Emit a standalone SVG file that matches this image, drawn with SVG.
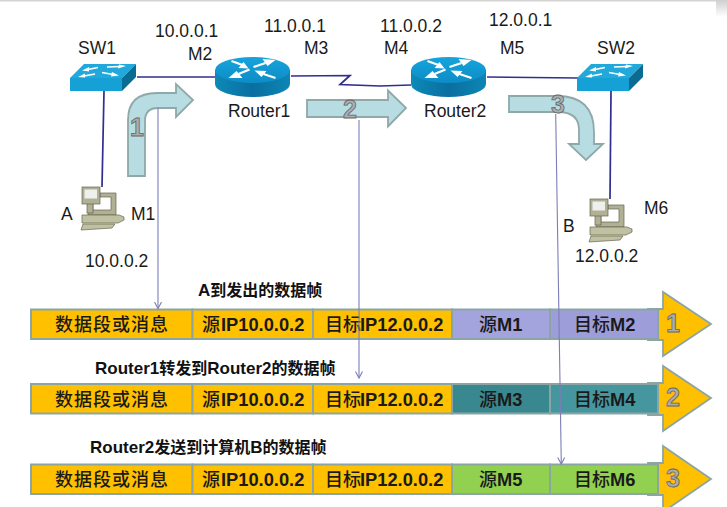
<svg xmlns="http://www.w3.org/2000/svg" xmlns:xlink="http://www.w3.org/1999/xlink" width="727" height="507" viewBox="0 0 727 507">
<style>
text{font-family:"Liberation Sans","Noto Sans CJK SC",sans-serif;fill:#1a1a1a}
.l{font-size:17.500px}
.t{font-size:16px;font-weight:700;fill:#111}
.t tspan{font-size:17px}
.c{font-size:18px;font-weight:500;fill:#1a1a1a}
.c tspan{font-weight:700;font-size:18.300px}
.n{font-size:25px;font-weight:700;fill:#adadad;stroke:#666;stroke-width:.8}
.w{fill:none;stroke:#2f2f90;stroke-width:1.700}
.p{fill:none;stroke:#7d7db8;stroke-width:1.100}
.h{fill:none;stroke:#7d7db8;stroke-width:1.100}
.ba{fill:#b7dde3;stroke:#8fa8a8;stroke-width:1.800}
.cell{stroke:#8ba5a5;stroke-width:2}
.am{fill:#ffc000}
.head{fill:#ffc000;stroke:#8ba5a5;stroke-width:1.800}
.wa{fill:none;stroke:#fff;stroke-width:2.200}
.wf{fill:#fff}
.pa{fill:#b0b094;stroke:#66664f;stroke-width:.7}
</style>
<defs>
<marker id="open" markerWidth="10" markerHeight="10" refX="7" refY="4" orient="auto" markerUnits="userSpaceOnUse"><path d="M0.5,0.5 L7,4 L0.5,7.5" class="h"/></marker>
<linearGradient id="rt" x1="0" y1="0" x2="0" y2="1"><stop offset="0" stop-color="#16a4dc"/><stop offset="1" stop-color="#0d8cc6"/></linearGradient>
<linearGradient id="rs" x1="0" y1="0" x2="1" y2="0"><stop offset="0" stop-color="#0c8ab8"/><stop offset=".5" stop-color="#0a6fa0"/><stop offset="1" stop-color="#0c86b4"/></linearGradient>
<linearGradient id="corner" x1="0" y1="0" x2="0" y2="1"><stop offset="0" stop-color="#cfcfcf"/><stop offset="1" stop-color="#ffffff"/></linearGradient>
<g id="router">
<path d="M-37.500,0 V14 A37.500,13 0 0 0 37.500,14 V0 Z" fill="url(#rs)"/>
<ellipse cx="0" cy="0" rx="37.500" ry="13" fill="url(#rt)"/>
<path class="wa" d="M-21,-9 L-10,-5 M1,-3 L13,-7 M-3,-0.500 L-14,4 M23,8 L11,4"/>
<path class="wf" d="M-4,-1.500 L-14,-2 L-9,-8 Z M23,-10 L10,-11 L15,-4 Z M-24,8 L-16,1 L-10,8 Z M2,0.500 L9,7 L14,1 Z"/>
</g>
<g id="switch">
<path d="M0,14 L14,0 H66 L52,14 Z" fill="#22a9db"/>
<path d="M0,14 H52 V27 H0 Z" fill="#15a0d6"/>
<path d="M52,14 L66,0 V13 L52,27 Z" fill="#0a6b93"/>
<path class="wa" style="stroke-width:1.500" d="M18,5.500 L28,3.500 M37,3 L50,2.500 M14,12 L25,10 M32,8.500 L43,10.500"/>
<path class="wf" d="M12,6.500 L19,3 L19,7.500 Z M56,2 L49,0.500 L48,4.500 Z M8,13 L15,9.500 L15,13.500 Z M49,11.500 L42,8 L41,12.500 Z"/>
</g>
<g id="pc">
<path class="pa" d="M18,6 H34 V28 H6 V11 H11 V23 H29 V10 H18 Z"/>
<rect class="pa" x="5" y="11" width="6" height="15"/>
<rect class="pa" x="0" y="0" width="18" height="17"/>
<rect x="2.500" y="2.500" width="12.500" height="9" fill="#eef0ee"/>
<path class="pa" d="M0,28 H37 L42,30 V33 L36,36 H0 Z" style="fill:#c0c0a2"/>
<path class="pa" d="M1,37 H33 L30,41 L-1,43 Z" style="fill:#c0c0a2"/>
</g>
</defs>
<rect x="0" y="0" width="716" height="1.500" fill="#d4d4d4"/>
<rect x="716" y="0" width="11" height="17" fill="url(#corner)"/>

<g id="connectors">
<path class="w" d="M137,77 L215,77"/>
<path class="w" d="M104,91 L102,187"/>
<path class="w" d="M291,76 L350,75.500 L340,84.500 L380,86 L411,85"/>
<path class="w" d="M487,77 L578,78"/>
<path class="w" d="M611,91 L610,199"/>
</g>

<g id="flow-arrows">
<path class="ba" d="M128,176 H145 V121 Q145,108 158,108 H176 V117 L193,100 L176,84 V93 H157 Q128,93 128,120 Z"/>
<path class="ba" d="M307,100 H388 V90.500 L406,108 L388,126.500 V117 H307 Z"/>
<path class="ba" d="M509,96 H557 Q594,96 594,132 V144 H603 L586,160 L569,144 H579 V130 Q579,112 558,112 H509 Z"/>
</g>

<g id="sw1"><use xlink:href="#switch" href="#switch" x="70" y="64"/><text class="l" x="78" y="54">SW1</text></g>
<g id="router1"><use xlink:href="#router" href="#router" x="252.500" y="70"/><text class="l" x="228" y="117">Router1</text></g>
<g id="router2"><use xlink:href="#router" href="#router" x="448.500" y="70"/><text class="l" x="424" y="117">Router2</text></g>
<g id="sw2"><use xlink:href="#switch" href="#switch" x="577" y="64"/><text class="l" x="597" y="54">SW2</text></g>
<g id="pc-a"><use xlink:href="#pc" href="#pc" x="82" y="187"/><text class="l" x="61" y="220">A</text><text class="l" x="131" y="220">M1</text><text class="l" x="85" y="267">10.0.0.2</text></g>
<g id="pc-b"><use xlink:href="#pc" href="#pc" x="590" y="199"/><text class="l" x="563" y="232">B</text><text class="l" x="644" y="214">M6</text><text class="l" x="575" y="262">12.0.0.2</text></g>

<g id="port-labels">
<text class="l" x="155" y="37">10.0.0.1</text><text class="l" x="188" y="60">M2</text>
<text class="l" x="264" y="32">11.0.0.1</text><text class="l" x="304" y="54">M3</text>
<text class="l" x="380" y="32">11.0.0.2</text><text class="l" x="384" y="54">M4</text>
<text class="l" x="489" y="26">12.0.0.1</text><text class="l" x="500" y="54">M5</text>
</g>

<g id="frame1">
<text class="t" x="198" y="296"><tspan>A</tspan>到发出的数据帧</text>
<path class="head" d="M648,309 H663 V292 L711,324 L663,356 V340 H648 Z"/>
<rect class="cell am" x="31" y="309.500" width="161.500" height="29.500"/>
<rect class="cell am" x="192.500" y="309.500" width="120.500" height="29.500"/>
<rect class="cell am" x="313" y="309.500" width="139" height="29.500"/>
<rect class="cell" fill="#a3a3de" x="452" y="309.500" width="98" height="29.500"/>
<rect class="cell" fill="#9d9dd9" x="550" y="309.500" width="108" height="29.500"/>
<text class="c" x="55" y="331" textLength="113">数据段或消息</text>
<text class="c" x="202" y="331">源<tspan x="221">IP10.0.0.2</tspan></text>
<text class="c" x="325" y="331">目标<tspan x="360">IP12.0.0.2</tspan></text>
<text class="c" x="479" y="331">源<tspan>M1</tspan></text>
<text class="c" x="574" y="331">目标<tspan>M2</tspan></text>
<text class="n" x="666" y="332">1</text>
</g>

<g id="frame2">
<text class="t" x="95" y="374"><tspan>Router1</tspan>转发到<tspan>Router2</tspan>的数据帧</text>
<path class="head" d="M648,383 H663 V366 L711,398 L663,431 V415 H648 Z"/>
<rect class="cell am" x="31" y="384" width="161.500" height="29.500"/>
<rect class="cell am" x="192.500" y="384" width="120.500" height="29.500"/>
<rect class="cell am" x="313" y="384" width="139" height="29.500"/>
<rect class="cell" fill="#39888f" x="452" y="384" width="98" height="29.500"/>
<rect class="cell" fill="#46969f" x="550" y="384" width="108" height="29.500"/>
<text class="c" x="55" y="405.500" textLength="113">数据段或消息</text>
<text class="c" x="202" y="405.500">源<tspan x="221">IP10.0.0.2</tspan></text>
<text class="c" x="325" y="405.500">目标<tspan x="360">IP12.0.0.2</tspan></text>
<text class="c" x="479" y="405.500">源<tspan>M3</tspan></text>
<text class="c" x="574" y="405.500">目标<tspan>M4</tspan></text>
<text class="n" x="666" y="406">2</text>
</g>

<g id="frame3">
<text class="t" x="90" y="453"><tspan>Router2</tspan>发送到计算机<tspan>B</tspan>的数据帧</text>
<path class="head" d="M648,463 H663 V446 L711,479 L663,512 V495 H648 Z"/>
<rect class="cell am" x="31" y="464.500" width="161.500" height="29.500"/>
<rect class="cell am" x="192.500" y="464.500" width="120.500" height="29.500"/>
<rect class="cell am" x="313" y="464.500" width="139" height="29.500"/>
<rect class="cell" fill="#92d050" x="452" y="464.500" width="98" height="29.500"/>
<rect class="cell" fill="#92d050" x="550" y="464.500" width="108" height="29.500"/>
<text class="c" x="55" y="486" textLength="113">数据段或消息</text>
<text class="c" x="202" y="486">源<tspan x="221">IP10.0.0.2</tspan></text>
<text class="c" x="325" y="486">目标<tspan x="360">IP12.0.0.2</tspan></text>
<text class="c" x="479" y="486">源<tspan>M5</tspan></text>
<text class="c" x="574" y="486">目标<tspan>M6</tspan></text>
<text class="n" x="666" y="487">3</text>
</g>

<g id="flow-numbers">
<text class="n" x="130" y="136">1</text>
<text class="n" x="343" y="118">2</text>
<text class="n" x="551" y="113">3</text>
</g>

<g id="pointers">
<path class="p" d="M158,108 V308.500" marker-end="url(#open)"/>
<path class="p" d="M359,120 V378" marker-end="url(#open)"/>
<path class="p" d="M555.700,114 L561.300,464" marker-end="url(#open)"/>
</g>
</svg>
